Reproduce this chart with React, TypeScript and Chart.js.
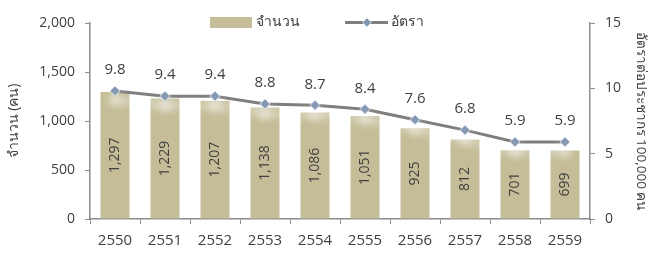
import React, { useEffect, useRef } from "react";
import { Chart, registerables } from "chart.js";

Chart.register(...registerables);

const years = ["2550", "2551", "2552", "2553", "2554", "2555", "2556", "2557", "2558", "2559"];
const counts = [1297, 1229, 1207, 1138, 1086, 1051, 925, 812, 701, 699];
const rates = [9.8, 9.4, 9.4, 8.8, 8.7, 8.4, 7.6, 6.8, 5.9, 5.9];
const countLabel = "จำนวน";
const rateLabel = "อัตรา";
const leftTitle = "จำนวน (คน)";
const rightTitle = "อัตราต่อประชากร 100,000 คน";

const FONT = "'Open Sans', 'Noto Sans', sans-serif";
const TEXT = "#404040";
const AXIS = "#8c8c8c";
const BAR = "#c4bd97";
const LINE = "#7f7f7f";
const MARK = "#8496b0";

const fmt = (v: number) => v.toLocaleString("en-US");

const shadowPlugin = {
  id: "lineShadow",
  beforeDatasetDraw(chart: any, args: any) {
    if (args.index === 1) {
      const ctx = chart.ctx;
      ctx.save();
      ctx.shadowColor = "rgba(255,255,255,0.95)";
      ctx.shadowBlur = 10;
      ctx.shadowOffsetY = 9;
    }
  },
  afterDatasetDraw(chart: any, args: any) {
    if (args.index === 1) chart.ctx.restore();
  },
};

const labelPlugin = {
  id: "valueLabels",
  afterDatasetsDraw(chart: any) {
    const ctx = chart.ctx;
    const barMeta = chart.getDatasetMeta(0);
    const lineMeta = chart.getDatasetMeta(1);
    ctx.save();
    ctx.fillStyle = TEXT;
    ctx.font = `14px ${FONT}`;
    ctx.textAlign = "center";
    ctx.textBaseline = "middle";
    barMeta.data.forEach((el: any, i: number) => {
      const cy = (el.y + el.base) / 2;
      ctx.save();
      ctx.translate(el.x, cy);
      ctx.rotate(-Math.PI / 2);
      ctx.fillText(fmt(counts[i]), 0, 0);
      ctx.restore();
    });
    ctx.font = `15px ${FONT}`;
    lineMeta.data.forEach((el: any, i: number) => {
      ctx.fillText(rates[i].toFixed(1), el.x, el.y - 21);
    });
    ctx.restore();
  },
};

const legendPlugin = {
  id: "customLegend",
  afterDraw(chart: any) {
    const ctx = chart.ctx;
    ctx.save();
    ctx.fillStyle = BAR;
    ctx.fillRect(210, 17, 42, 11);
    ctx.fillStyle = TEXT;
    ctx.font = `14px ${FONT}`;
    ctx.textBaseline = "middle";
    ctx.textAlign = "left";
    ctx.fillText(countLabel, 256, 22);
    ctx.strokeStyle = LINE;
    ctx.lineWidth = 3;
    ctx.beginPath();
    ctx.moveTo(345, 22.5);
    ctx.lineTo(388, 22.5);
    ctx.stroke();
    ctx.fillStyle = MARK;
    ctx.strokeStyle = "#dbe3f0";
    ctx.lineWidth = 1;
    ctx.beginPath();
    ctx.moveTo(367, 18);
    ctx.lineTo(371.5, 22.5);
    ctx.lineTo(367, 27);
    ctx.lineTo(362.5, 22.5);
    ctx.closePath();
    ctx.fill();
    ctx.stroke();
    ctx.fillStyle = TEXT;
    ctx.fillText(rateLabel, 391, 22);
    ctx.restore();
  },
};

export default function App() {
  const ref = useRef<HTMLCanvasElement>(null);
  useEffect(() => {
    if (!ref.current) return;
    const chart = new Chart(ref.current, {
      type: "bar",
      data: {
        labels: years,
        datasets: [
          {
            type: "bar",
            label: countLabel,
            data: counts,
            backgroundColor: BAR,
            yAxisID: "y",
            barPercentage: 0.58,
            categoryPercentage: 1,
            order: 2,
          },
          {
            type: "line",
            label: rateLabel,
            data: rates,
            borderColor: LINE,
            borderWidth: 3,
            pointStyle: "rectRot",
            pointRadius: 5,
            pointBackgroundColor: MARK,
            pointBorderColor: "#dbe3f0",
            pointBorderWidth: 1,
            tension: 0,
            yAxisID: "y1",
            order: 1,
          } as any,
        ],
      },
      options: {
        responsive: false,
        animation: false,
        devicePixelRatio: 1,
        layout: { padding: { top: 23, bottom: 0, left: 0, right: 0 } },
        plugins: { legend: { display: false }, tooltip: { enabled: false } },
        scales: {
          x: {
            grid: { offset: true, drawOnChartArea: false, drawTicks: true, tickLength: 5, color: AXIS },
            border: { color: AXIS, width: 1.5 },
            ticks: { color: TEXT, font: { family: FONT, size: 15 }, padding: 8 },
            afterFit: (s: any) => { s.width; s.height = 37; },
          },
          y: {
            position: "left",
            min: 0,
            max: 2000,
            grid: { drawOnChartArea: false, tickLength: 5, color: AXIS },
            border: { color: AXIS, width: 1.5 },
            ticks: {
              stepSize: 500,
              color: TEXT,
              font: { family: FONT, size: 14 },
              padding: 10,
              callback: (v: any) => fmt(Number(v)),
            },
            title: { display: true, text: leftTitle, color: TEXT, font: { family: FONT, size: 14 }, padding: { top: 6, bottom: 0 } },
            afterFit: (s: any) => { s.width = 90; },
          },
          y1: {
            position: "right",
            min: 0,
            max: 15,
            grid: { drawOnChartArea: false, tickLength: 5, color: AXIS },
            border: { color: AXIS, width: 1.5 },
            ticks: { stepSize: 5, color: TEXT, font: { family: FONT, size: 14 }, padding: 10 },
            title: { display: true, text: rightTitle, color: TEXT, font: { family: FONT, size: 13.5 }, padding: { top: 11, bottom: 0 } },
            afterFit: (s: any) => { s.width = 70; },
          },
        },
      },
      plugins: [shadowPlugin, labelPlugin, legendPlugin],
    });
    return () => chart.destroy();
  }, []);
  return (
    <div style={{ position: "fixed", left: 0, top: 0, width: 660, height: 256, background: "#fff" }}>
      <canvas ref={ref} width={660} height={256} style={{ display: "block" }} />
    </div>
  );
}
